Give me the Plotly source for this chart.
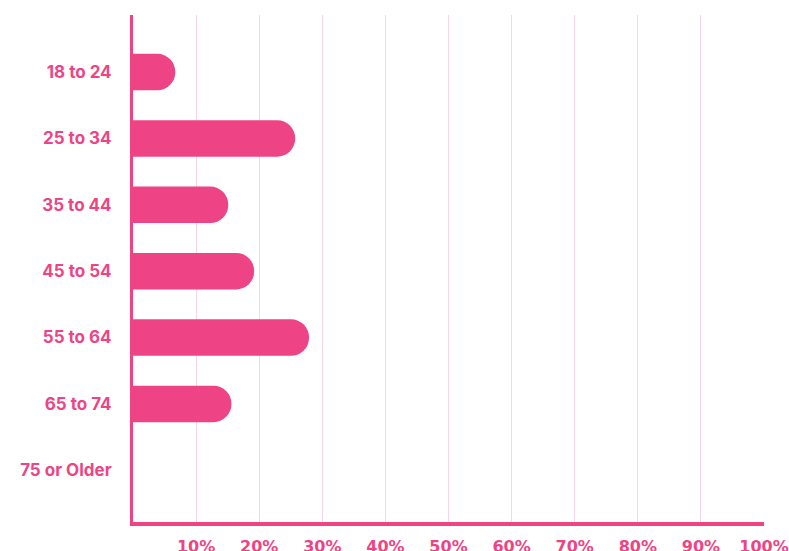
import plotly.graph_objects as go

categories = ["18 to 24", "25 to 34", "35 to 44", "45 to 54", "55 to 64", "65 to 74", "75 or Older"]
values = [6.7, 25.7, 15.1, 19.2, 27.9, 15.6, 0]
tick_vals = [10, 20, 30, 40, 50, 60, 70, 80, 90, 100]
tick_text = ["10%", "20%", "30%", "40%", "50%", "60%", "70%", "80%", "90%", "100%"]

PINK = "#EE4486"
GRID = "#FAD6E3"

fig = go.Figure(go.Bar(
    x=values, y=categories, orientation="h",
    marker=dict(color=PINK, cornerradius=18, line=dict(width=0)),
    width=0.55, hoverinfo="skip",
))

fig.update_layout(
    width=789, height=551,
    margin=dict(l=133, r=25, t=15, b=29),
    paper_bgcolor="white", plot_bgcolor="white",
    showlegend=False,
    xaxis=dict(
        range=[0, 100], tickvals=tick_vals, ticktext=tick_text,
        showgrid=True, gridcolor=GRID, gridwidth=1,
        zeroline=False, showline=True, linecolor=PINK, linewidth=4,
        ticks="", ticklabelstandoff=7, automargin=False,
        tickfont=dict(family="DejaVu Sans", size=16, color=PINK, weight=700),
    ),
    yaxis=dict(
        type="category", categoryorder="array", categoryarray=categories,
        range=[6.78, -0.86], automargin=False,
        showgrid=False, zeroline=False, showline=True, linecolor=PINK, linewidth=3,
        ticks="", ticklabelstandoff=15,
        tickfont=dict(family="Inter", size=17, color=PINK, weight=700),
    ),
)

fig.write_html("out.html")
